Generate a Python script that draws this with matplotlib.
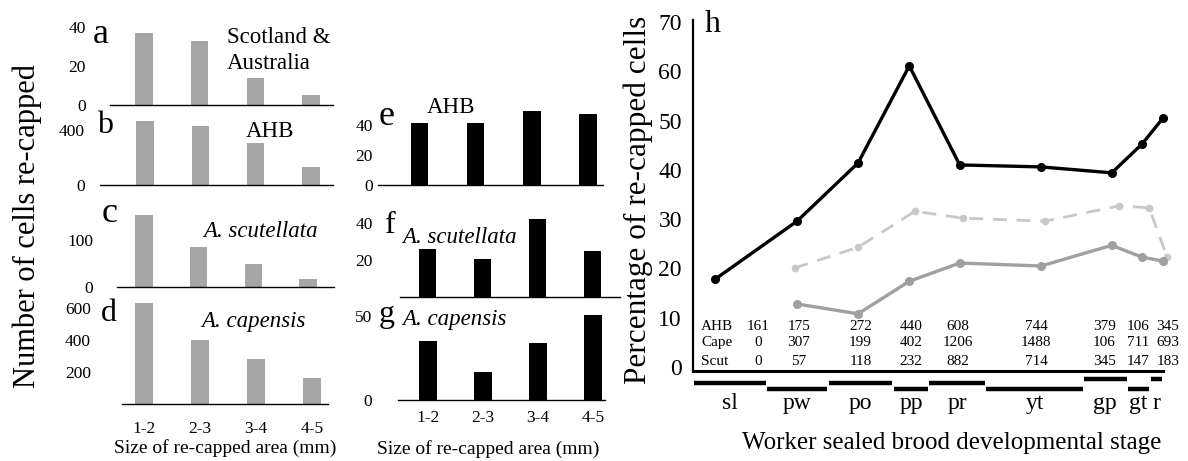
import numpy as np
import matplotlib.pyplot as plt

plt.rcParams['font.family'] = ['Liberation Serif', 'DejaVu Serif']

W, H = 1188, 461

# --- bar panels a-g: cells re-capped by size of re-capped area ---
size_classes = ['1-2', '2-3', '3-4', '4-5']
scot_aus_counts = [37, 33, 14, 5]
ahb_counts = [465, 430, 305, 130]
scut_counts = [153, 85, 49, 17]
cape_counts = [631, 400, 281, 162]
ahb_recap = [41, 41, 49, 47]
scut_recap = [26, 20.5, 42, 25]
cape_recap = [35, 16.5, 34, 50.5]

# --- panel h: percentage re-capped per developmental stage ---
stages = ['sl', 'pw', 'po', 'pp', 'pr', 'yt', 'gp', 'gt', 'r']
stage_edges = [0, 45, 83, 123, 145, 180, 240, 267, 281, 289]   # hours after sealing
ahb_hours = [13.5, 64, 101.5, 133, 164, 214, 257.5, 276, 289]
ahb_pct = [17.8, 29.6, 41.4, 61.1, 41.0, 40.6, 39.4, 45.2, 50.5]
cape_hours = [62.5, 101.5, 136.5, 166, 216.5, 262, 280.5, 291.5]
cape_pct = [20.1, 24.3, 31.6, 30.2, 29.6, 32.7, 32.3, 22.3]
scut_hours = [64, 101.5, 133, 164, 214, 257.5, 276, 289]
scut_pct = [12.8, 10.8, 17.4, 21.1, 20.5, 24.7, 22.3, 21.5]

n_ahb = [161, 175, 272, 440, 608, 744, 379, 106, 345]
n_cape = [0, 307, 199, 402, 1206, 1488, 106, 711, 693]
n_scut = [0, 57, 118, 232, 882, 714, 345, 147, 183]
table_cols = [40, 65, 103, 134, 163, 211, 253, 274, 292]

GRAY = '#a6a6a6'

fig = plt.figure(figsize=(W / 100, H / 100), dpi=100)


def ftext(x, y, s, **kw):
    fig.text(x / W, 1 - y / H, s, **kw)


def bar_panel(vals, color, x0, x1, base, scale, top, c0, sp, ticks, pad,
              xlab_pad=None):
    height = top * scale
    ax = fig.add_axes([x0 / W, 1 - base / H, (x1 - x0) / W, height / H])
    ax.set_facecolor('none')
    xs = np.arange(len(vals))
    ax.bar(xs, vals, width=17.5 / sp, color=color)
    ax.set_xlim((x0 - c0) / sp, (x1 - c0) / sp)
    ax.set_ylim(0, top)
    for s in ['top', 'right', 'left']:
        ax.spines[s].set_visible(False)
    ax.spines['bottom'].set_linewidth(1.0)
    ax.set_yticks(ticks)
    ax.tick_params(axis='y', length=0, pad=pad * 0.72, labelsize=12.5)
    if xlab_pad is None:
        ax.set_xticks([])
    else:
        ax.set_xticks(xs, size_classes)
        ax.tick_params(axis='x', length=0, pad=xlab_pad * 0.72, labelsize=12.5)
    return ax


bar_panel(scot_aus_counts, GRAY, 110, 333, 105, 1.95, 40, 144, 55.7, [0, 20, 40], 24)
bar_panel(ahb_counts, GRAY, 100, 333, 185, 0.1375, 480, 145, 55.3, [0, 400], 15)
bar_panel(scut_counts, GRAY, 117, 334, 287, 0.47, 160, 144, 54.7, [0, 100], 24)
bar_panel(cape_counts, GRAY, 122, 328, 404, 0.16, 640, 144, 56, [200, 400, 600], 31,
          xlab_pad=17)
bar_panel(ahb_recap, 'black', 378, 603, 185, 1.5, 50, 419.5, 56.2, [0, 20, 40], 5)
bar_panel(scut_recap, 'black', 400, 620, 297, 1.85, 44, 427.5, 55, [20, 40], 27)
bar_panel(cape_recap, 'black', 398, 605, 400, 1.68, 52, 428, 55, [0, 50], 26,
          xlab_pad=10)

# panel letters and titles
for lt, x, y, fs in [('a', 93, 43, 26), ('b', 97, 133, 23), ('c', 102, 222, 26),
                     ('d', 101, 321, 23), ('e', 379, 125, 26), ('f', 385, 233, 23),
                     ('g', 379, 322, 23), ('h', 705, 32, 23)]:
    ftext(x, y, lt, fontsize=fs, ha='left', va='baseline')

ftext(227, 43, 'Scotland &', fontsize=16.5, ha='left', va='baseline')
ftext(227, 69, 'Australia', fontsize=16.5, ha='left', va='baseline')
ftext(270, 137, 'AHB', fontsize=16.5, ha='center', va='baseline')
ftext(203, 237, 'A. scutellata', fontsize=16.5, style='italic', ha='left', va='baseline')
ftext(201, 327, 'A. capensis', fontsize=16.5, style='italic', ha='left', va='baseline')
ftext(427, 113, 'AHB', fontsize=16.5, ha='left', va='baseline')
ftext(402, 243, 'A. scutellata', fontsize=16.5, style='italic', ha='left', va='baseline')
ftext(402, 325, 'A. capensis', fontsize=16.5, style='italic', ha='left', va='baseline')

ftext(225, 448, 'Size of re-capped area (mm)', fontsize=14, ha='center', va='center')
ftext(488, 449, 'Size of re-capped area (mm)', fontsize=14, ha='center', va='center')
ftext(27, 226, 'Number of cells re-capped', fontsize=22, rotation=90,
      ha='center', va='center')

# --- panel h ---
ax = fig.add_axes([693 / W, 1 - 371 / H, 470 / W, 351 / H])
ax.set_facecolor('none')
ax.set_xlim(0, 289)
ax.set_ylim(-0.8, 70.4)
ax.plot(ahb_hours, ahb_pct, color='black', lw=2.4, marker='o', ms=5.5, clip_on=False)
ax.plot(cape_hours, cape_pct, color='#c8c8c8', lw=2, ls=(0, (5, 3.5)), marker='o',
        ms=4.5, clip_on=False)
ax.plot(scut_hours, scut_pct, color='#a0a0a0', lw=2.4, marker='o', ms=5.5, clip_on=False)

for s in ['top', 'right']:
    ax.spines[s].set_visible(False)
ax.spines['left'].set_linewidth(1.6)
ax.spines['bottom'].set_linewidth(2.2)
ax.set_yticks(range(0, 71, 10))
ax.set_xticks([])
ax.tick_params(axis='y', length=0, pad=8, labelsize=17)

# stage bars below the axis, staggered
tr = ax.get_xaxis_transform()
stage_levels = [-0.034, -0.051, -0.034, -0.051, -0.034, -0.051, -0.023, -0.051, -0.023]
for i, name in enumerate(stages):
    a, b = stage_edges[i], stage_edges[i + 1]
    ax.plot([a + 0.4, b - 0.4], [stage_levels[i]] * 2, color='black', lw=3.2,
            solid_capstyle='butt', transform=tr, clip_on=False)
    ax.text((a + b) / 2, -0.094, name, transform=tr, fontsize=17,
            ha='center', va='center')

# sample sizes
for row, (lab, vals) in enumerate([('AHB', n_ahb), ('Cape', n_cape), ('Scut', n_scut)]):
    yy = [0.128, 0.080, 0.026][row]
    ax.text(5, yy, lab, transform=tr, fontsize=11, ha='left', va='center')
    for xc, v in zip(table_cols, vals):
        ax.text(xc, yy, str(v), transform=tr, fontsize=11, ha='center', va='center')

ftext(638, 200, 'Percentage of re-capped cells', fontsize=22.5, rotation=90,
      ha='center', va='center')
ftext(952, 443, 'Worker sealed brood developmental stage', fontsize=18,
      ha='center', va='center')

fig.savefig('out.png', dpi=100)
